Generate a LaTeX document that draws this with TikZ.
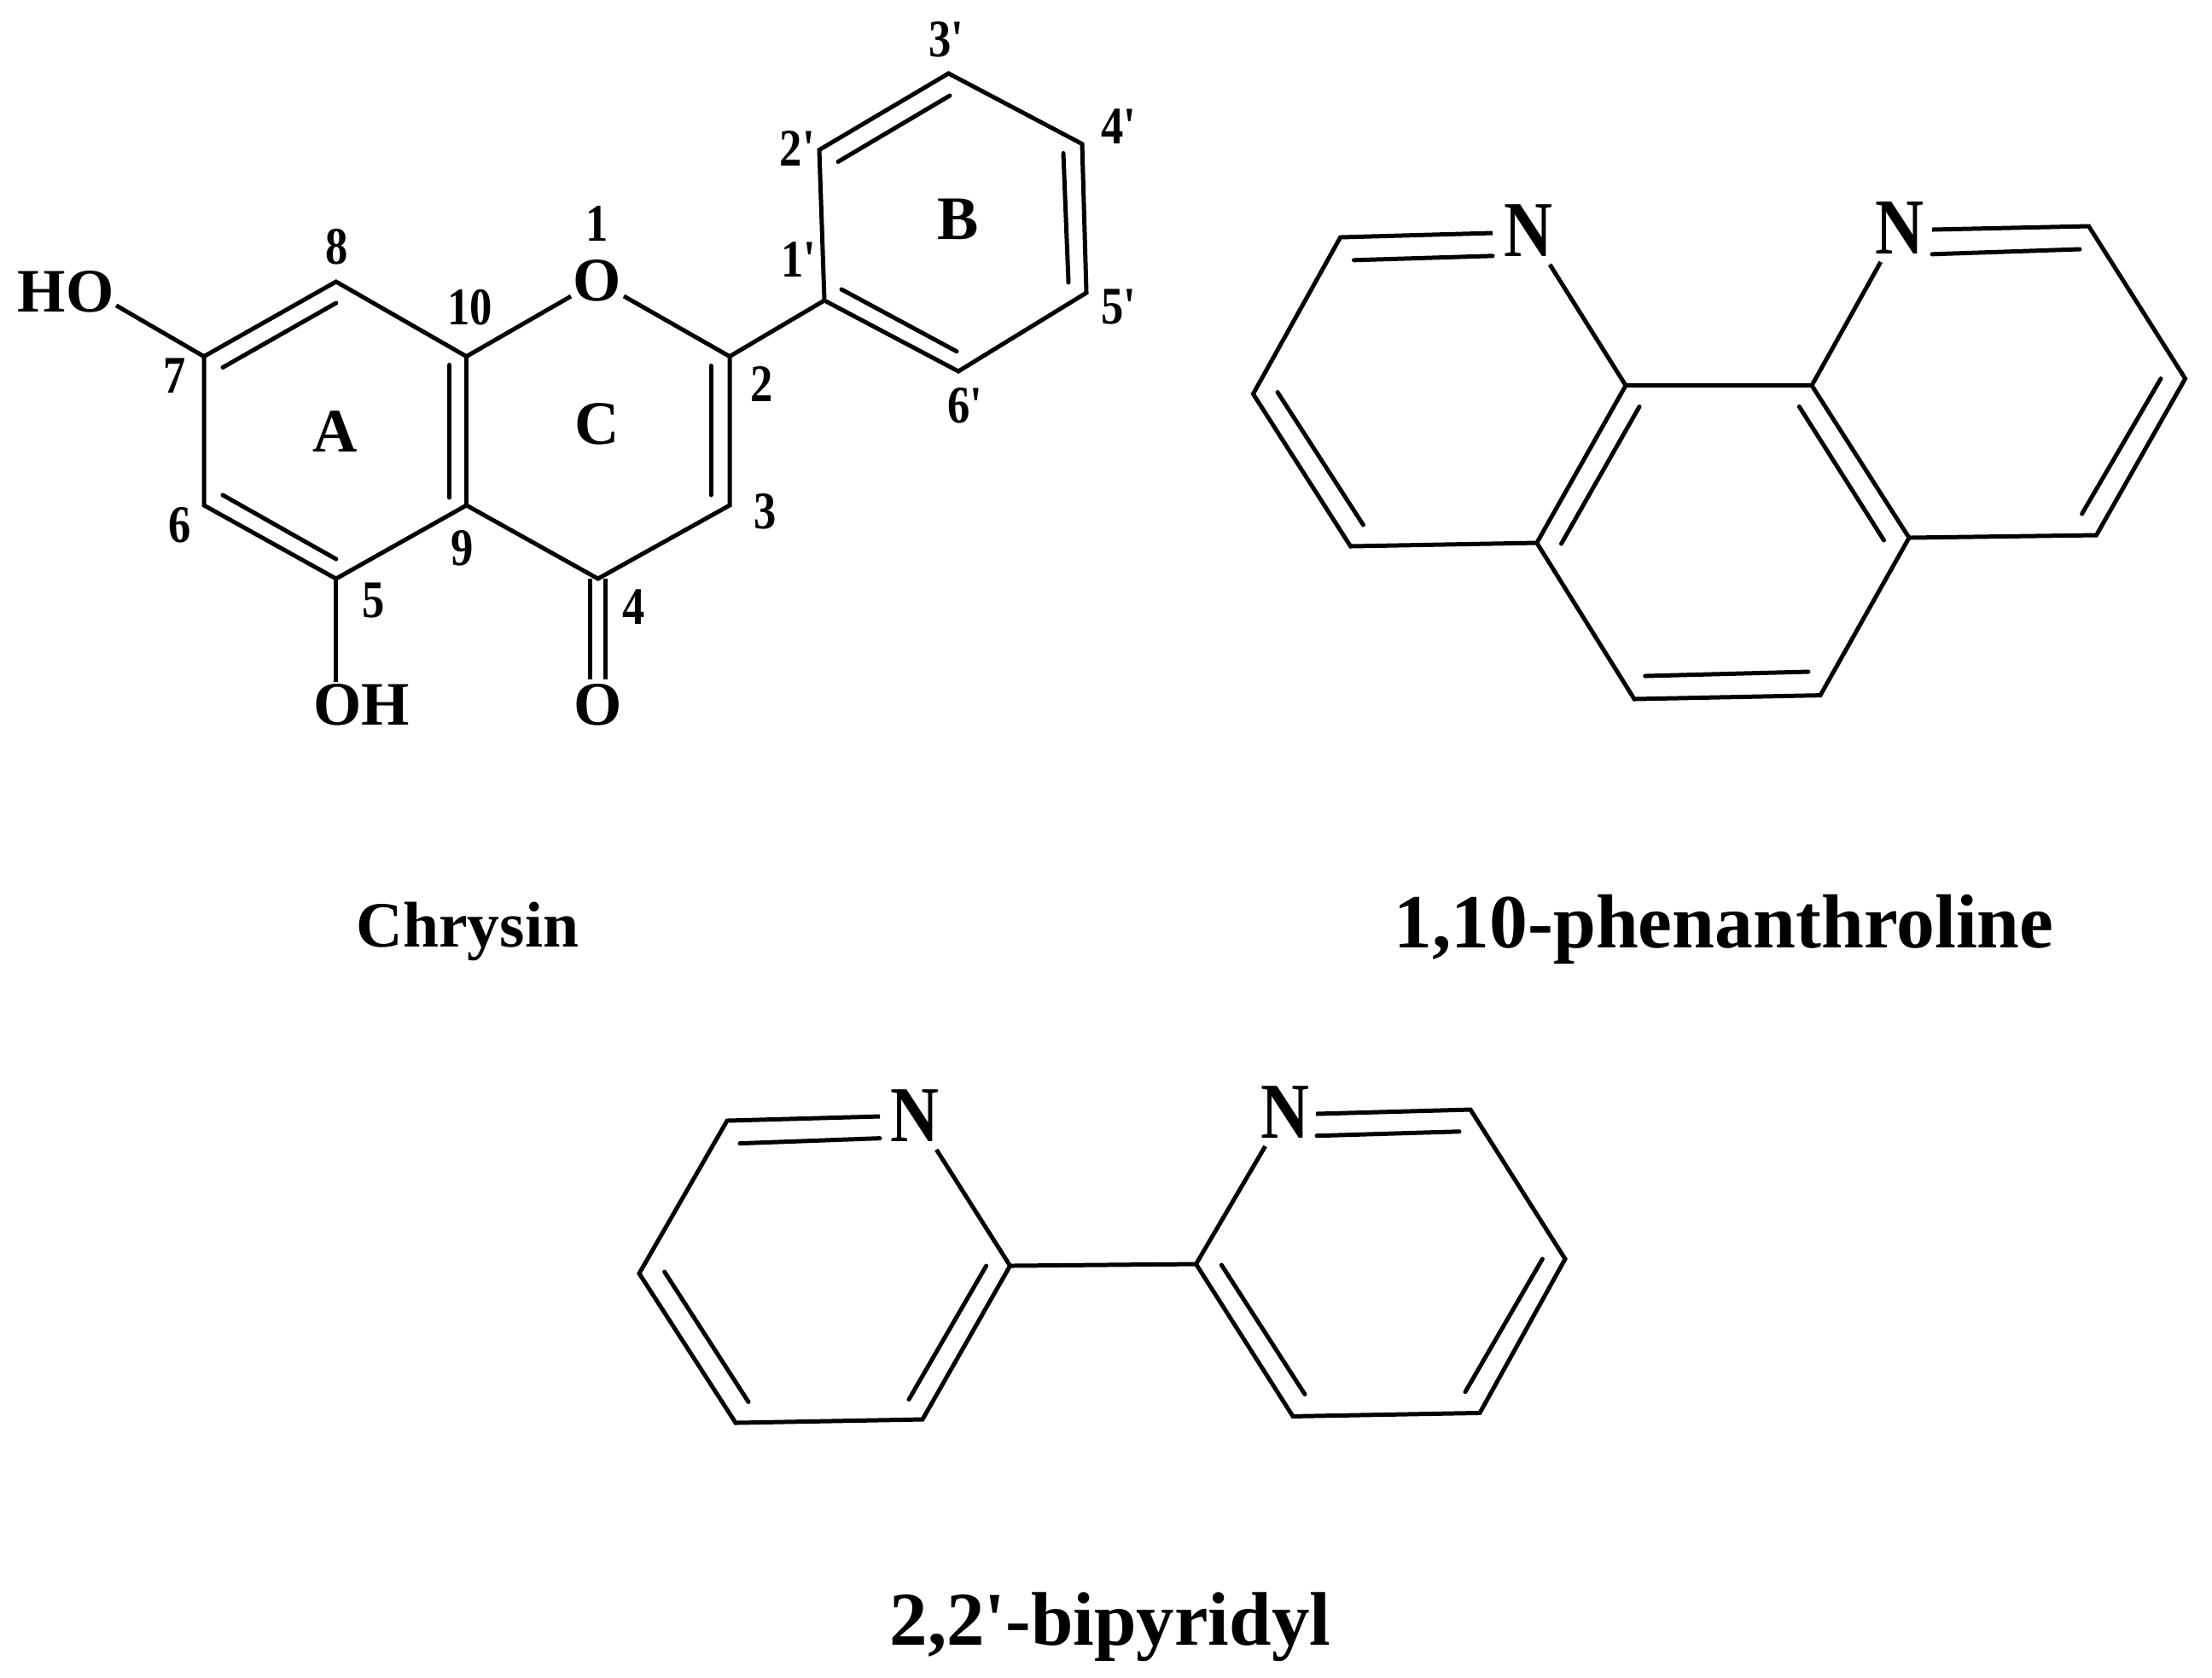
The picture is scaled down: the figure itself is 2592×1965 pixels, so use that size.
\documentclass[tikz,border=0pt]{standalone}
\usepackage{fontspec}
\setmainfont{Liberation Serif}
\newfontfamily\tallfont{Liberation Serif}[FakeStretch=.85]
\newcommand{\prm}{\textquotesingle}

\begin{document}
\begin{tikzpicture}[x=.01cm,y=-.01cm,
	bond/.style={draw=black,line width=1.42pt,line join=miter},
	bondin/.style={bond,line cap=round},
	num/.style={font=\fontsize{17.6}{20}\tallfont\bfseries,inner sep=0pt},
	letter/.style={font=\fontsize{20.6}{25}\selectfont\bfseries,inner sep=0.6pt},
	nitro/.style={font=\fontsize{26.4}{30}\tallfont\bfseries,inner sep=2.5pt},
	title/.style={anchor=base,font=\fontsize{#1}{30}\selectfont\bfseries,inner sep=0pt}]
	\useasboundingbox (0,0) rectangle (2592,1965);
	% chrysin
	\foreach \nm/\x/\y in {c2/855/417.6,c3/855/592,c4/700.7/678,c5/393.8/678,c6/239/592,c7/239/417.6,
		c8/393.8/330,c9/546.6/592,c10/546.6/417.6,d1/966/352,d2/960/175.6,d3/1111.5/86,d4/1268/168.6,d5/1273/343,d6/1123/435,
		ia/261/430.5,ib/393.8/355,ic/526.8/427.5,id/526.8/583,ie/833/428.5,ig/833/580,ih/261/580,ii/393.8/655,
		ij/982/189.5,ik/1113/112,il/1246/179.5,im/1252/331,in/986/339,io/1121/411.7,
		oa/691.7/678,ob/691.7/795.6,oc/709.3/678,od/709.3/795.6}
		\coordinate (\nm) at (\x,\y);
	\node[letter] (o1) at (700,329.3) {O};
	\node[letter] (ho) at (77,342) {HO};
	\node[letter] (oh) at (423.6,826) {OH};
	\node[letter] (o4) at (700.3,826) {O};
	\node[letter] (ringa) at (393,506) {A};
	\node[letter] (ringb) at (1123,257) {B};
	\node[letter] (ringc) at (700,497) {C};
	\foreach \txt/\nm/\x/\y in {1/la/700/262,2/lb/893/450,3/lc/897/599,4/ld/743/711,5/le/437.5/704,6/lf/211/615,
		7/lg/205/440,8/lh/395/289,9/li/541.6/642,10/lj/550.6/360,
		1\prm/lk/937.4/304.5,2\prm/ll/935.5/173.6,3\prm/lm/1110/46.6,4\prm/ln/1312/148,5\prm/lo/1312/360,6\prm/lp/1132/475}
		\node[num] (\nm) at (\x,\y) {\txt};
	\draw[bond] (c10) -- (c8) -- (c7) -- (c6) -- (c5) -- (c9) -- (c4) -- (c3) -- (c2) -- (d1);
	\draw[bond] (c10) -- (c9);
	\draw[bond] (c10) -- (o1) -- (c2);
	\draw[bond] (d1) -- (d2) -- (d3) -- (d4) -- (d5) -- (d6) -- (d1) -- cycle;
	\draw[bond] (c7) -- (ho.-15);
	\draw[bond] (c5) -- (oh.north -| c5);
	\draw[bond] (oa) -- (ob);
	\draw[bond] (oc) -- (od);
	\foreach \p/\q in {ia/ib,ic/id,ie/ig,ih/ii,ij/ik,il/im,in/io}
		\draw[bondin] (\p) -- (\q);
	\node[title=21.5] (chrysin) at (548,1109) {Chrysin};

	% 1,10-phenanthroline
	\foreach \nm/\x/\y in {p1/1570.6/278,p2/1468.4/461.5,p3/1582.5/640,p4/1800.8/636,p5/1915/819,p6/2133/814.6,p7/2237/630,
		p8/2456.5/627,p9/2560.6/443.6,p10/2447.5/265,p11/2123/451.6,p12/1905/451.6,
		pa/1749/273,pb/1586.5/304.8,pc/1749/299.8,pd/2264/269,pe/2264/297.8,pf/2437/292,
		pg/1497/459.5,ph/1597.4/615,pi/1921/476.4,pj/1829.5/637,pk/2108.3/476.4,pl/2207.5/633,pm/2532/443.6,pn/2439.6/602,po/1927.7/792,pq/2119/787}
		\coordinate (\nm) at (\x,\y);
	\node[nitro] (pnl) at (1791,270) {N};
	\node[nitro] (pnr) at (2226,267) {N};
	\draw[bond] (pa) -- (p1) -- (p2) -- (p3) -- (p4) -- (p5) -- (p6) -- (p7) -- (p8) -- (p9) -- (p10) -- (pd);
	\draw[bond] (pnl) -- (p12) -- (p11) -- (pnr);
	\draw[bond] (p12) -- (p4);
	\draw[bond] (p11) -- (p7);
	\foreach \p/\q in {pb/pc,pe/pf,pg/ph,pi/pj,pk/pl,pm/pn,po/pq}
		\draw[bondin] (\p) -- (\q);
	\node[title=25.5] (phen) at (2020,1110) {1,10-phenanthroline};

	% 2,2'-bipyridyl
	\foreach \nm/\x/\y in {b1/852/1313,b2/749/1492,b3/862/1667,b4/1081/1663,b5/1183.6/1483,b6/1401.5/1481,
		b7/1515/1659.4,b8/1734/1655.4,b9/1834/1475,b10/1723/1300,
		ba/1031/1308,bb/867/1339.6,bc/1031/1333.6,bd/1542/1305,be/1543/1330.7,bf/1710/1325.7,
		bg/778.6/1490,bh/877/1642.5,bi/1155.7/1483,bj/1065/1639.6,bk/1431.3/1482,bl/1529/1633.6,bm/1807.4/1475,bn/1717/1630.7}
		\coordinate (\nm) at (\x,\y);
	\node[nitro] (bnl) at (1072,1307) {N};
	\node[nitro] (bnr) at (1506,1303) {N};
	\draw[bond] (ba) -- (b1) -- (b2) -- (b3) -- (b4) -- (b5) -- (b6) -- (b7) -- (b8) -- (b9) -- (b10) -- (bd);
	\draw[bond] (bnl) -- (b5);
	\draw[bond] (bnr) -- (b6);
	\foreach \p/\q in {bb/bc,be/bf,bg/bh,bi/bj,bk/bl,bm/bn}
		\draw[bondin] (\p) -- (\q);
	\node[title=25.3] (bipy) at (1301,1927) {2,2\prm-bipyridyl};
\end{tikzpicture}
\end{document}
